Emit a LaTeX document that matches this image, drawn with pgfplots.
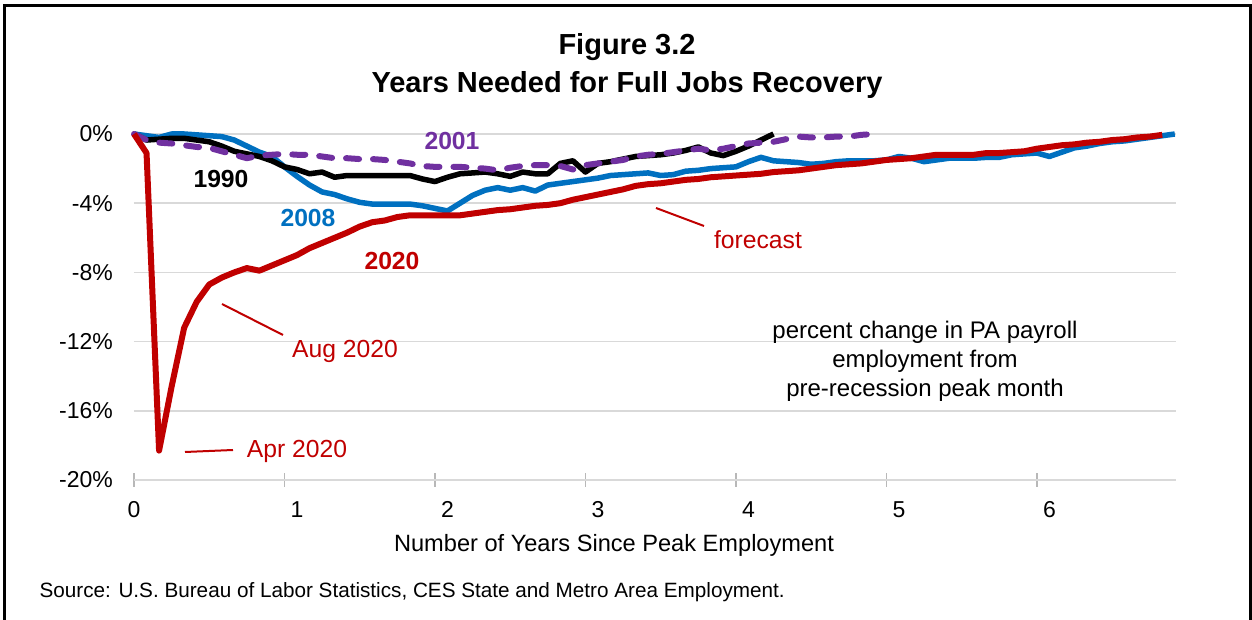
\documentclass[border=0pt]{standalone}
\usepackage{fontspec}
\setmainfont{Liberation Sans}
\usepackage{pgfplots}
\pgfplotsset{compat=1.18}
\usepackage{pgfplotstable}
\definecolor{cred}{HTML}{C00000}
\definecolor{cblue}{HTML}{0070C0}
\definecolor{cpurple}{HTML}{7030A0}
\definecolor{gridgray}{HTML}{D9D9D9}

\pgfplotstableread{
m v
0 0
1 -0.35
2 -0.3
3 -0.25
4 -0.25
5 -0.35
6 -0.45
7 -0.7
8 -1.0
9 -1.15
10 -1.3
11 -1.55
12 -1.9
13 -2.05
14 -2.3
15 -2.2
16 -2.5
17 -2.4
18 -2.4
19 -2.4
20 -2.4
21 -2.4
22 -2.4
23 -2.6
24 -2.75
25 -2.5
26 -2.3
27 -2.25
28 -2.2
29 -2.3
30 -2.45
31 -2.2
32 -2.3
33 -2.3
34 -1.7
35 -1.55
36 -2.2
37 -1.7
38 -1.6
39 -1.45
40 -1.3
41 -1.25
42 -1.2
43 -1.1
44 -0.95
45 -0.75
46 -1.1
47 -1.25
48 -1.0
49 -0.7
50 -0.35
51 0
}\dataA

\pgfplotstableread{
m v
0 0
1 -0.35
2 -0.5
3 -0.55
4 -0.65
5 -0.75
6 -0.8
7 -1.0
8 -1.2
9 -1.4
10 -1.25
11 -1.2
12 -1.15
13 -1.2
14 -1.2
15 -1.3
16 -1.4
17 -1.4
18 -1.45
19 -1.45
20 -1.5
21 -1.6
22 -1.7
23 -1.85
24 -1.9
25 -1.9
26 -1.9
27 -1.95
28 -2.0
29 -2.1
30 -1.95
31 -1.85
32 -1.8
33 -1.8
34 -1.85
35 -2.05
36 -1.8
37 -1.7
38 -1.6
39 -1.5
40 -1.3
41 -1.2
42 -1.15
43 -1.05
44 -0.95
45 -0.85
46 -0.95
47 -0.85
48 -0.7
49 -0.55
50 -0.5
51 -0.45
52 -0.3
53 -0.15
54 -0.2
55 -0.2
56 -0.15
57 -0.15
58 -0.05
59 0
}\dataB

\pgfplotstableread{
m v
0 0
1 -0.1
2 -0.2
3 0
4 0
5 -0.05
6 -0.1
7 -0.15
8 -0.35
9 -0.7
10 -1.05
11 -1.3
12 -1.9
13 -2.45
14 -2.95
15 -3.35
16 -3.5
17 -3.75
18 -3.95
19 -4.05
20 -4.05
21 -4.05
22 -4.05
23 -4.15
24 -4.3
25 -4.45
26 -4.0
27 -3.55
28 -3.25
29 -3.1
30 -3.25
31 -3.1
32 -3.3
33 -2.95
34 -2.85
35 -2.75
36 -2.65
37 -2.55
38 -2.4
39 -2.35
40 -2.3
41 -2.25
42 -2.4
43 -2.35
44 -2.15
45 -2.1
46 -2.0
47 -1.95
48 -1.9
49 -1.6
50 -1.35
51 -1.55
52 -1.6
53 -1.65
54 -1.75
55 -1.7
56 -1.6
57 -1.55
58 -1.55
59 -1.55
60 -1.5
61 -1.3
62 -1.4
63 -1.6
64 -1.5
65 -1.4
66 -1.4
67 -1.4
68 -1.35
69 -1.35
70 -1.2
71 -1.15
72 -1.1
73 -1.3
74 -1.05
75 -0.8
76 -0.7
77 -0.55
78 -0.45
79 -0.4
80 -0.3
81 -0.2
82 -0.1
83 0
}\dataC

\pgfplotstableread{
m v
0 0
1 -1.1
2 -18.3
3 -14.6
4 -11.2
5 -9.7
6 -8.7
7 -8.3
8 -8.0
9 -7.75
10 -7.9
11 -7.6
12 -7.3
13 -7.0
14 -6.6
15 -6.3
16 -6.0
17 -5.7
18 -5.35
19 -5.1
20 -5.0
21 -4.8
22 -4.7
23 -4.7
24 -4.7
25 -4.7
26 -4.7
27 -4.6
28 -4.5
29 -4.4
30 -4.35
31 -4.25
32 -4.15
33 -4.1
34 -4.0
35 -3.8
36 -3.65
37 -3.5
38 -3.35
39 -3.2
40 -3.0
41 -2.9
42 -2.85
43 -2.75
44 -2.65
45 -2.6
46 -2.5
47 -2.45
48 -2.4
49 -2.35
50 -2.3
51 -2.2
52 -2.15
53 -2.1
54 -2.0
55 -1.9
56 -1.8
57 -1.75
58 -1.7
59 -1.6
60 -1.5
61 -1.45
62 -1.4
63 -1.3
64 -1.2
65 -1.2
66 -1.2
67 -1.2
68 -1.1
69 -1.1
70 -1.05
71 -1.0
72 -0.85
73 -0.75
74 -0.65
75 -0.6
76 -0.5
77 -0.45
78 -0.35
79 -0.3
80 -0.2
81 -0.15
82 -0.05
}\dataD

\begin{document}
\begin{tikzpicture}
\begin{axis}[
  width=1042pt, height=346pt, scale only axis,
  xmin=0, xmax=83.1, ymin=-20, ymax=0,
  clip=false,
  axis x line=bottom, axis y line=left,
  x axis line style={-, draw=gridgray, line width=1.5pt},
  y axis line style={draw=none},
  xtick={0,12,...,72}, xticklabels={,,,,,,},
  major tick length=14pt, tick align=center,
  x tick style={draw=gridgray!85!black, line width=1.5pt},
  extra x ticks={0,13,25,37,49,61,73},
  extra x tick labels={0,1,2,3,4,5,6},
  extra x tick style={major tick length=0pt, grid=none,
     tick label style={anchor=north, inner sep=0pt, yshift=-21pt}},
  ytick={-20,-16,-12,-8,-4,0},
  yticklabels={-20\%,-16\%,-12\%,-8\%,-4\%,0\%},
  y tick style={draw=none},
  yticklabel style={anchor=east, inner sep=0pt, xshift=-14pt},
  ymajorgrids, y grid style={draw=gridgray, line width=1.5pt},
  tick label style={font=\fontsize{23}{27}\selectfont},
  /pgf/number format/assume math mode=true,
  line join=round,
]
\addplot[draw=cblue, line width=5.5pt] table[x=m, y=v] {\dataC};
\addplot[draw=black, line width=5.5pt] table[x=m, y=v] {\dataA};
\addplot[draw=cpurple, line width=6pt, line cap=round, dash pattern=on 13pt off 14pt] table[x=m, y=v] {\dataB};
\addplot[draw=cred, line width=6pt] table[x=m, y=v] {\dataD};
\end{axis}

\begin{scope}[x=1pt, y=1pt, shift={(-134pt,480pt)}]
\useasboundingbox (0,0) rectangle (1252,-620);
% frame
\draw[line width=3pt] (5,-621) -- (5,-6) -- (1250.5,-6) -- (1250.5,-621);

% titles
\node[font=\bfseries\fontsize{29}{34}\selectfont] at (627,-47) {Figure 3.2};
\node[font=\bfseries\fontsize{29}{34}\selectfont] at (627,-85) {Years Needed for Full Jobs Recovery};

% series labels
\node[font=\bfseries\fontsize{24.7}{29}\selectfont, black] at (221,-179) {1990};
\node[font=\bfseries\fontsize{24.7}{29}\selectfont, cblue] at (308,-218) {2008};
\node[font=\bfseries\fontsize{24.7}{29}\selectfont, cpurple] at (452,-141) {2001};
\node[font=\bfseries\fontsize{24.7}{29}\selectfont, cred] at (392,-261) {2020};

% annotations
\node[font=\fontsize{24.7}{29}\selectfont, cred] at (758,-240) {forecast};
\node[font=\fontsize{24.7}{29}\selectfont, cred] at (345,-351) {Aug 2020};
\node[font=\fontsize{24.7}{29}\selectfont, cred] at (297,-451) {Apr 2020};
\draw[cred, line width=2pt] (656,-208) -- (704,-226);
\draw[cred, line width=2pt] (222,-304) -- (283,-335);
\draw[cred, line width=2pt] (185,-452) -- (233,-450);

\node[font=\fontsize{24}{29}\selectfont, align=center] at (925,-361)
  {percent change in PA payroll\\employment from\\pre-recession peak month};

% axis title and source
\node[font=\fontsize{23.6}{27}\selectfont] at (614,-545) {Number of Years Since Peak Employment};
\node[font=\fontsize{20.7}{24}\selectfont, anchor=west] at (36,-592) {Source: U.S. Bureau of Labor Statistics, CES State and Metro Area Employment.};
\end{scope}
\end{tikzpicture}
\end{document}
